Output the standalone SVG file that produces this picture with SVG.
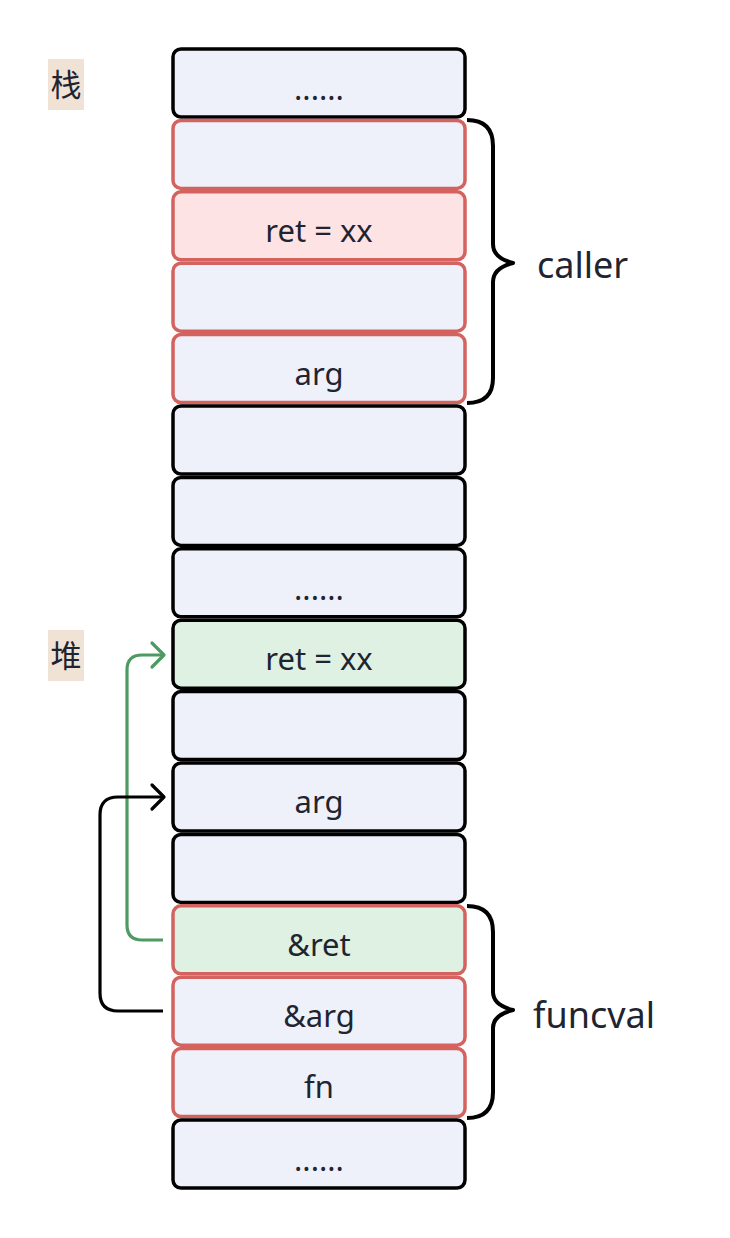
<svg xmlns="http://www.w3.org/2000/svg" width="730" height="1238" viewBox="0 0 730 1238">
<style>
.b{fill:#EEF1F9;stroke:#000;stroke-width:3.5}
.r{fill:#EEF1F9;stroke:#D4625E;stroke-width:3.5}
.rp{fill:#FDE3E3;stroke:#D4625E;stroke-width:3.5}
.g{fill:#DEF1E2;stroke:#000;stroke-width:3.5}
.gr{fill:#DEF1E2;stroke:#D4625E;stroke-width:3.5}
.t{font-family:"Noto Sans","Open Sans",sans-serif;font-size:31px;fill:#1f2430;text-anchor:middle}
.lab{font-family:"Noto Sans","Open Sans",sans-serif;font-size:36px;fill:#1f2430}
.cjk{font-family:"Noto Sans CJK SC",sans-serif;font-size:31px;fill:#1f2430}
.brace{fill:none;stroke:#000;stroke-width:4;stroke-linejoin:round}
</style>
<defs>
<marker id="ag" markerWidth="18" markerHeight="30" refX="15" refY="15" orient="auto" markerUnits="userSpaceOnUse"><path d="M3,3 L15,15 L3,27" fill="none" stroke="#4E9A63" stroke-width="3.2" stroke-linecap="round" stroke-linejoin="round"/></marker>
<marker id="ab" markerWidth="18" markerHeight="30" refX="15" refY="15" orient="auto" markerUnits="userSpaceOnUse"><path d="M3,3 L15,15 L3,27" fill="none" stroke="#000" stroke-width="3.2" stroke-linecap="round" stroke-linejoin="round"/></marker>
</defs>
<g id="label-stack"><rect x="48" y="59" width="36" height="51" fill="#F0E3D6"/><text class="cjk" x="66" y="96" text-anchor="middle">栈</text></g>
<g id="label-heap"><rect x="48" y="630" width="36" height="51" fill="#F0E3D6"/><text class="cjk" x="66" y="667" text-anchor="middle">堆</text></g>
<g id="n0"><rect class="b" x="173" y="49" width="292" height="68" rx="8"/><text class="t" x="319" y="100">......</text></g>
<g id="n1"><rect class="r" x="173" y="120.4" width="292" height="68" rx="8"/></g>
<g id="n2"><rect class="rp" x="173" y="191.8" width="292" height="68" rx="8"/><text class="t" x="319" y="242">ret = xx</text></g>
<g id="n3"><rect class="r" x="173" y="263.2" width="292" height="68" rx="8"/></g>
<g id="n4"><rect class="r" x="173" y="334.6" width="292" height="68" rx="8"/><text class="t" x="319" y="385">arg</text></g>
<g id="n5"><rect class="b" x="173" y="406" width="292" height="68" rx="8"/></g>
<g id="n6"><rect class="b" x="173" y="477.4" width="292" height="68" rx="8"/></g>
<g id="n7"><rect class="b" x="173" y="548.8" width="292" height="68" rx="8"/><text class="t" x="319" y="600">......</text></g>
<g id="n8"><rect class="g" x="173" y="620.2" width="292" height="68" rx="8"/><text class="t" x="319" y="670">ret = xx</text></g>
<g id="n9"><rect class="b" x="173" y="691.6" width="292" height="68" rx="8"/></g>
<g id="n10"><rect class="b" x="173" y="763" width="292" height="68" rx="8"/><text class="t" x="319" y="813">arg</text></g>
<g id="n11"><rect class="b" x="173" y="834.4" width="292" height="68" rx="8"/></g>
<g id="n12"><rect class="gr" x="173" y="905.8" width="292" height="68" rx="8"/><text class="t" x="319" y="956">&amp;ret</text></g>
<g id="n13"><rect class="r" x="173" y="977.2" width="292" height="68" rx="8"/><text class="t" x="319" y="1027">&amp;arg</text></g>
<g id="n14"><rect class="r" x="173" y="1048.6" width="292" height="68" rx="8"/><text class="t" x="319" y="1098">fn</text></g>
<g id="n15"><rect class="b" x="173" y="1120" width="292" height="68" rx="8"/><text class="t" x="319" y="1171">......</text></g>
<g id="caller"><path class="brace" d="M467,120 Q493,120 493,146 L493,244 Q493,258 513,263 Q493,268 493,282 L493,378 Q493,403 467,403"/><text class="lab" x="537" y="278">caller</text></g>
<g id="funcval"><path class="brace" d="M467,906 Q493,906 493,932 L493,992 Q493,1005 513,1010 Q493,1015 493,1028 L493,1092 Q493,1118 467,1118"/><text class="lab" x="533" y="1028">funcval</text></g>
<g id="connectors">
<path d="M163,940 L142,940 Q127,940 127,925 L127,670 Q127,655 142,655 L164,655" fill="none" stroke="#4E9A63" stroke-width="3.2" marker-end="url(#ag)"/>
<path d="M163,1011 L118,1011 Q100,1011 100,993 L100,815 Q100,797 118,797 L164,797" fill="none" stroke="#000" stroke-width="3.2" marker-end="url(#ab)"/>
</g>
</svg>
